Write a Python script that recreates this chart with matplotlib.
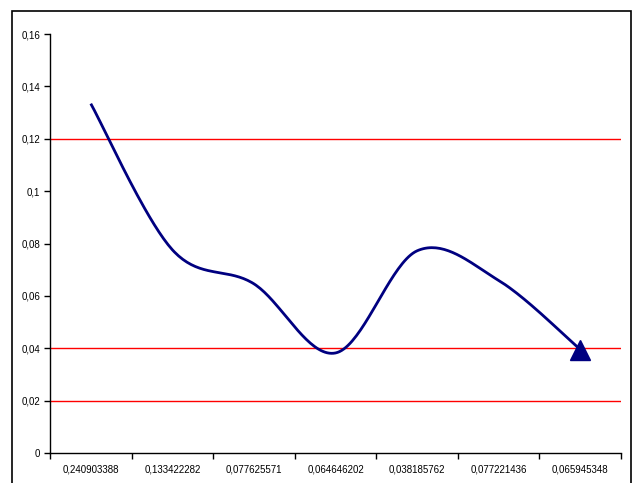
import matplotlib
matplotlib.use("Agg")
import matplotlib.pyplot as plt
import numpy as np
from matplotlib.patches import Rectangle
from matplotlib.ticker import FixedLocator, FuncFormatter

categories = ["0,240903388", "0,133422282", "0,077625571", "0,064646202",
              "0,038185762", "0,077221436", "0,065945348"]
values = [0.1334, 0.0776, 0.0646, 0.0382, 0.0772, 0.0659, 0.0395]
ref_lines = [0.02, 0.04, 0.12]

plt.rcParams["font.family"] = ["Liberation Sans", "DejaVu Sans"]


def excel_smooth(x, y, n=40):
    """Catmull-Rom style Bezier smoothing, similar to Excel's smoothed line."""
    pts = np.column_stack([x, y]).astype(float)
    out = [pts[0]]
    for i in range(len(pts) - 1):
        p0 = pts[i - 1] if i > 0 else pts[i]
        p1, p2 = pts[i], pts[i + 1]
        p3 = pts[i + 2] if i + 2 < len(pts) else pts[i + 1]
        c1 = p1 + (p2 - p0) / 6.0
        c2 = p2 - (p3 - p1) / 6.0
        t = np.linspace(0, 1, n)[1:, None]
        seg = ((1 - t) ** 3) * p1 + 3 * ((1 - t) ** 2) * t * c1 \
            + 3 * (1 - t) * t ** 2 * c2 + t ** 3 * p2
        out.extend(seg)
    out = np.array(out)
    return out[:, 0], out[:, 1]


fig = plt.figure(figsize=(6.38, 4.83), dpi=100)
ax = fig.add_axes([50 / 638, 1 - 453 / 483, 571 / 638, 419 / 483])

# chart area border
fig.patches.append(Rectangle((12 / 638, -0.05), 619 / 638, 1.05 - 11 / 483,
                             transform=fig.transFigure, fill=False,
                             edgecolor="black", linewidth=1.2))

xs = np.arange(len(values))
for v in ref_lines:
    ax.axhline(v, color="#ff0000", linewidth=1.0, zorder=1)

sx, sy = excel_smooth(xs, values)
ax.plot(sx, sy, color="#000080", linewidth=2.0, zorder=3,
        solid_capstyle="butt")
ax.plot(xs[-1], values[-1], marker="^", markersize=15, color="#000080",
        linestyle="none", zorder=4)

ax.set_xlim(-0.5, len(values) - 0.5)
ax.set_ylim(0, 0.16)
ax.set_yticks(np.arange(0, 0.161, 0.02))
ax.yaxis.set_major_formatter(FuncFormatter(
    lambda v, p: f"{round(v, 2):g}".replace(".", ",")))

ax.xaxis.set_major_locator(FixedLocator(np.arange(-0.5, len(values), 1.0)))
ax.xaxis.set_minor_locator(FixedLocator(xs))
ax.set_xticklabels([])
ax.set_xticklabels(categories, minor=True)
ax.tick_params(axis="x", which="minor", length=0, pad=8, labelsize=7)
ax.tick_params(axis="x", which="major", length=4, width=1, direction="out")
ax.tick_params(axis="y", length=4, width=1, direction="out", labelsize=7, pad=3)

for s in ("top", "right"):
    ax.spines[s].set_visible(False)
for s in ("left", "bottom"):
    ax.spines[s].set_linewidth(1.0)

fig.savefig("out.png", dpi=100)
